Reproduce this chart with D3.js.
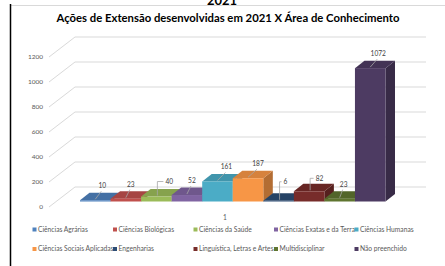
<!DOCTYPE html>
<html>
<head>
<meta charset="utf-8">
<script src="https://cdn.jsdelivr.net/npm/d3@7"></script>
<style>
  body { margin: 0; background: #fff; }
  svg { display: block; font-family: Lato, 'Open Sans', sans-serif; }
</style>
</head>
<body>
<svg width="445" height="266"></svg>
<script>
const categories = ['Ciências Agrárias', 'Ciências Biológicas', 'Ciências da Saúde', 'Ciências Exatas e da Terra', 'Ciências Humanas',
  'Ciências Sociais Aplicadas', 'Engenharias', 'Linguística, Letras e Artes', 'Multidisciplinar', 'Não preenchido']
const values = [10, 23, 40, 52, 161, 187, 6, 82, 23, 1072]
const colors = ['#4f81bd', '#c0504d', '#9bbb59', '#8064a2', '#4bacc6', '#f79646', '#2c4d75', '#772c2a', '#5f7530', '#4d3b62']
const yTicks = [0, 200, 400, 600, 800, 1000, 1200]
const xLabel = '1'
const title = 'Ações de Extensão desenvolvidas em 2021 X Área de Conhecimento'

const svg = d3.select('svg')

// frame bits of the sheet
svg.append('line').attr('x1', 11).attr('x2', 445).attr('y1', 5.5).attr('y2', 5.5)
  .attr('stroke', '#d9d9d9').attr('stroke-width', 1)
svg.append('line').attr('x1', 10.5).attr('x2', 10.5).attr('y1', 4).attr('y2', 266)
  .attr('stroke', '#000').attr('stroke-width', 1.5)

// heading of the sheet, cut at the top like in the screenshot
svg.append('text').attr('x', 222).attr('y', 4.5).attr('text-anchor', 'middle')
  .attr('font-weight', 'bold').attr('font-size', 13).attr('fill', '#000').text('2021')

svg.append('text').attr('x', 228).attr('y', 22).attr('text-anchor', 'middle')
  .attr('font-weight', 'bold').attr('font-size', 11.3).attr('fill', '#000').text(title)

// walls: front edge of floor and back wall offset
const wall = {dx: 26, dy: -20}
const depth = {dx: 9.5, dy: -7.5}

const y = d3.scaleLinear().domain([0, 1200]).range([207, 57])
const barY = d3.scaleLinear().domain([0, 1200]).range([201.5, 52.2])
const x = d3.scaleBand().domain(categories).range([80, 385.5]).padding(0)
const color = d3.scaleOrdinal().domain(categories).range(colors)

const grid = svg.append('g').attr('stroke', '#d9d9d9').attr('stroke-width', 1).attr('fill', 'none')
grid.selectAll('path').data(yTicks).enter().append('path')
  .attr('d', d => 'M49,' + y(d) + 'L' + (49 + wall.dx) + ',' + (y(d) + wall.dy) + 'H426')

svg.append('g').selectAll('text').data(yTicks).enter().append('text')
  .attr('x', 43).attr('y', d => y(d)).attr('dy', '0.35em')
  .attr('text-anchor', 'end').attr('font-size', 6.5).attr('fill', '#595959')
  .text(d => d)

// bars
const bw = x.bandwidth()
const bars = svg.append('g').selectAll('g').data(categories).enter().append('g')

bars.append('path')
  .attr('fill', d => d3.color(color(d)).darker(0.9))
  .attr('d', (d, i) => {
    const x1 = x(d) + bw, t = barY(values[i]), b = barY(0)
    return 'M' + x1 + ',' + t + 'L' + (x1 + depth.dx) + ',' + (t + depth.dy) +
      'L' + (x1 + depth.dx) + ',' + (b + depth.dy) + 'L' + x1 + ',' + b + 'Z'
  })
bars.append('path')
  .attr('fill', d => d3.color(color(d)).darker(0.4))
  .attr('d', (d, i) => {
    const x0 = x(d), t = barY(values[i])
    return 'M' + x0 + ',' + t + 'L' + (x0 + depth.dx) + ',' + (t + depth.dy) +
      'H' + (x0 + bw + depth.dx) + 'L' + (x0 + bw) + ',' + t + 'Z'
  })
bars.append('rect')
  .attr('x', d => x(d)).attr('width', bw)
  .attr('y', (d, i) => barY(values[i]))
  .attr('height', (d, i) => barY(0) - barY(values[i]))
  .attr('fill', d => color(d))

// data labels with leader lines
const labelDx = [7, 5, 9, 5, 9, 10, 5, 6.5, 4, 8]
const bracket = [false, false, true, false, false, false, true, true, false, false]
const bracketUp = [0, 0, 15, 0, 0, 0, 19, 13, 0, 0]

const labels = svg.append('g').attr('font-size', 6.6).attr('fill', '#404040')
values.forEach((v, i) => {
  const cx = x(categories[i]) + bw / 2
  const top = barY(v)
  if (bracket[i]) {
    const my = top - bracketUp[i]
    labels.append('path').attr('fill', 'none').attr('stroke', '#a6a6a6').attr('stroke-width', 0.8)
      .attr('d', 'M' + (cx + 1) + ',' + (top - 1) + 'V' + my + 'H' + (cx + labelDx[i] - 2))
    labels.append('text').attr('x', cx + labelDx[i]).attr('y', my).attr('dy', '0.35em').text(v)
  } else {
    labels.append('path').attr('fill', 'none').attr('stroke', '#a6a6a6').attr('stroke-width', 0.8)
      .attr('d', 'M' + cx + ',' + (top - 1) + 'L' + (cx + labelDx[i] - 1) + ',' + (top - 9))
    labels.append('text').attr('x', cx + labelDx[i]).attr('y', top - 12)
      .attr('text-anchor', 'middle').text(v)
  }
})

svg.append('text').attr('x', 225).attr('y', 219.5).attr('text-anchor', 'middle')
  .attr('font-size', 6.6).attr('fill', '#595959').text(xLabel)

// legend, 5 per row
const legend = svg.append('g').attr('font-size', 6.7).attr('fill', '#595959')
const item = legend.selectAll('g').data(categories).enter().append('g')
  .attr('transform', (d, i) => 'translate(' + (32.5 + (i % 5) * 80.5) + ',' + (229.5 + Math.floor(i / 5) * 19.5) + ')')
item.append('rect').attr('x', 0).attr('y', -2).attr('width', 4).attr('height', 4).attr('fill', d => color(d))
item.append('text').attr('x', 5.5).attr('dy', '0.35em').text(d => d)
</script>
</body>
</html>
